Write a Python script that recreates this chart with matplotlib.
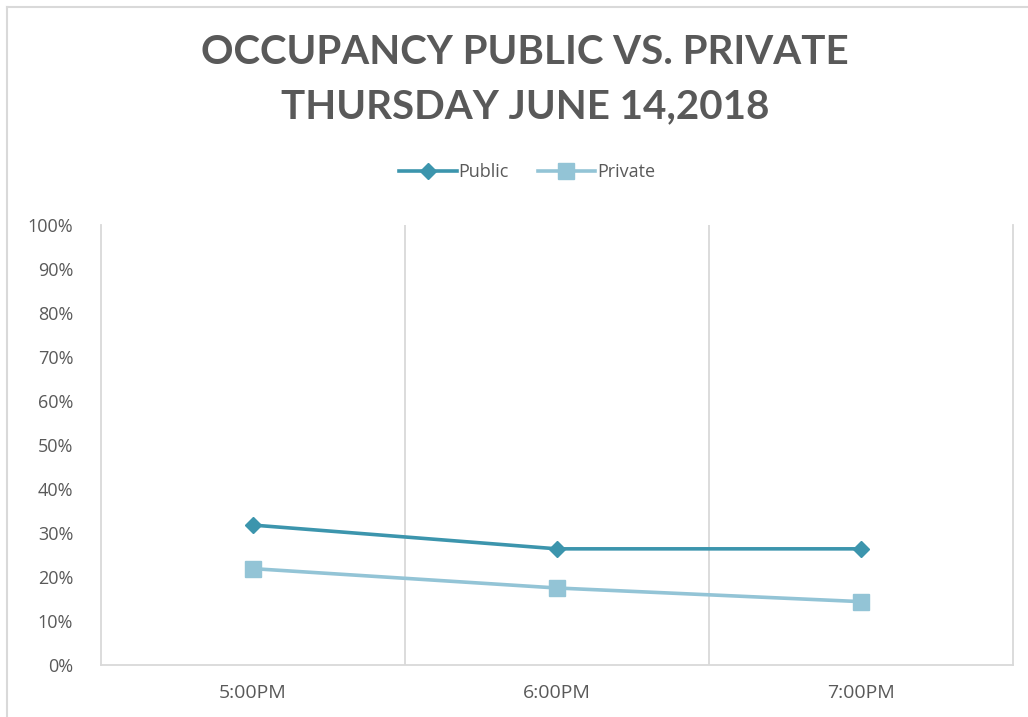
import matplotlib
matplotlib.use("Agg")
import matplotlib.pyplot as plt
from matplotlib.lines import Line2D

# chart data
times = ["5:00PM", "6:00PM", "7:00PM"]
public = [0.318, 0.264, 0.264]
private = [0.219, 0.175, 0.144]
y_ticks = [i / 10 for i in range(11)]

text_grey = "#595959"
grid_grey = "#D9D9D9"
public_col = "#3C95AD"
private_col = "#93C4D6"

plt.rcParams["font.family"] = ["Open Sans", "DejaVu Sans"]

fig = plt.figure(figsize=(10.28, 7.17), dpi=100)
ax = fig.add_axes([101 / 1028, 52 / 717, 912 / 1028, 440 / 717])

x = list(range(len(times)))
ax.plot(x, public, color=public_col, lw=2.6, marker="D", ms=8.5, label="Public",
        solid_joinstyle="round", zorder=3)
ax.plot(x, private, color=private_col, lw=2.6, marker="s", ms=12, label="Private",
        solid_joinstyle="round", zorder=3)

ax.set_xlim(-0.5, 2.5)
ax.set_ylim(0, 1)
ax.set_yticks(y_ticks)
ax.set_yticklabels([f"{int(round(v * 100))}%" for v in y_ticks])
ax.set_xticks(x)
ax.set_xticklabels(times)
ax.set_xticks([0.5, 1.5], minor=True)
ax.grid(True, which="minor", axis="x", color=grid_grey, lw=1.3)
ax.tick_params(which="both", length=0)
ax.tick_params(axis="y", colors=text_grey, labelsize=13, pad=20)
ax.tick_params(axis="x", colors=text_grey, labelsize=14, pad=14)
ax.spines["top"].set_visible(False)
for s in ["left", "right", "bottom"]:
    ax.spines[s].set_color(grid_grey)
    ax.spines[s].set_linewidth(1.3)

title_font = ["Lato", "DejaVu Sans"]
fig.text(0.511, 1 - 53 / 717, "OCCUPANCY PUBLIC VS. PRIVATE", ha="center", va="center",
         fontsize=29, fontweight="bold", color=text_grey, family=title_font)
fig.text(0.511, 1 - 107 / 717, "THURSDAY JUNE 14,2018", ha="center", va="center",
         fontsize=29, fontweight="bold", color=text_grey, family=title_font)

ax.legend(loc="center", bbox_to_anchor=(527 / 1028, 1 - 172 / 717),
          bbox_transform=fig.transFigure, ncol=2, frameon=False, fontsize=13,
          labelcolor=text_grey, handlelength=3.2, handletextpad=0.1, columnspacing=1.6)

# outer chart border (left and top visible)
fig.add_artist(Line2D([7 / 1028, 7 / 1028], [0, 1 - 7 / 717], color=grid_grey, lw=1.5))
fig.add_artist(Line2D([7 / 1028, 1], [1 - 7 / 717, 1 - 7 / 717], color=grid_grey, lw=1.5))

fig.savefig("out.png", dpi=100)
